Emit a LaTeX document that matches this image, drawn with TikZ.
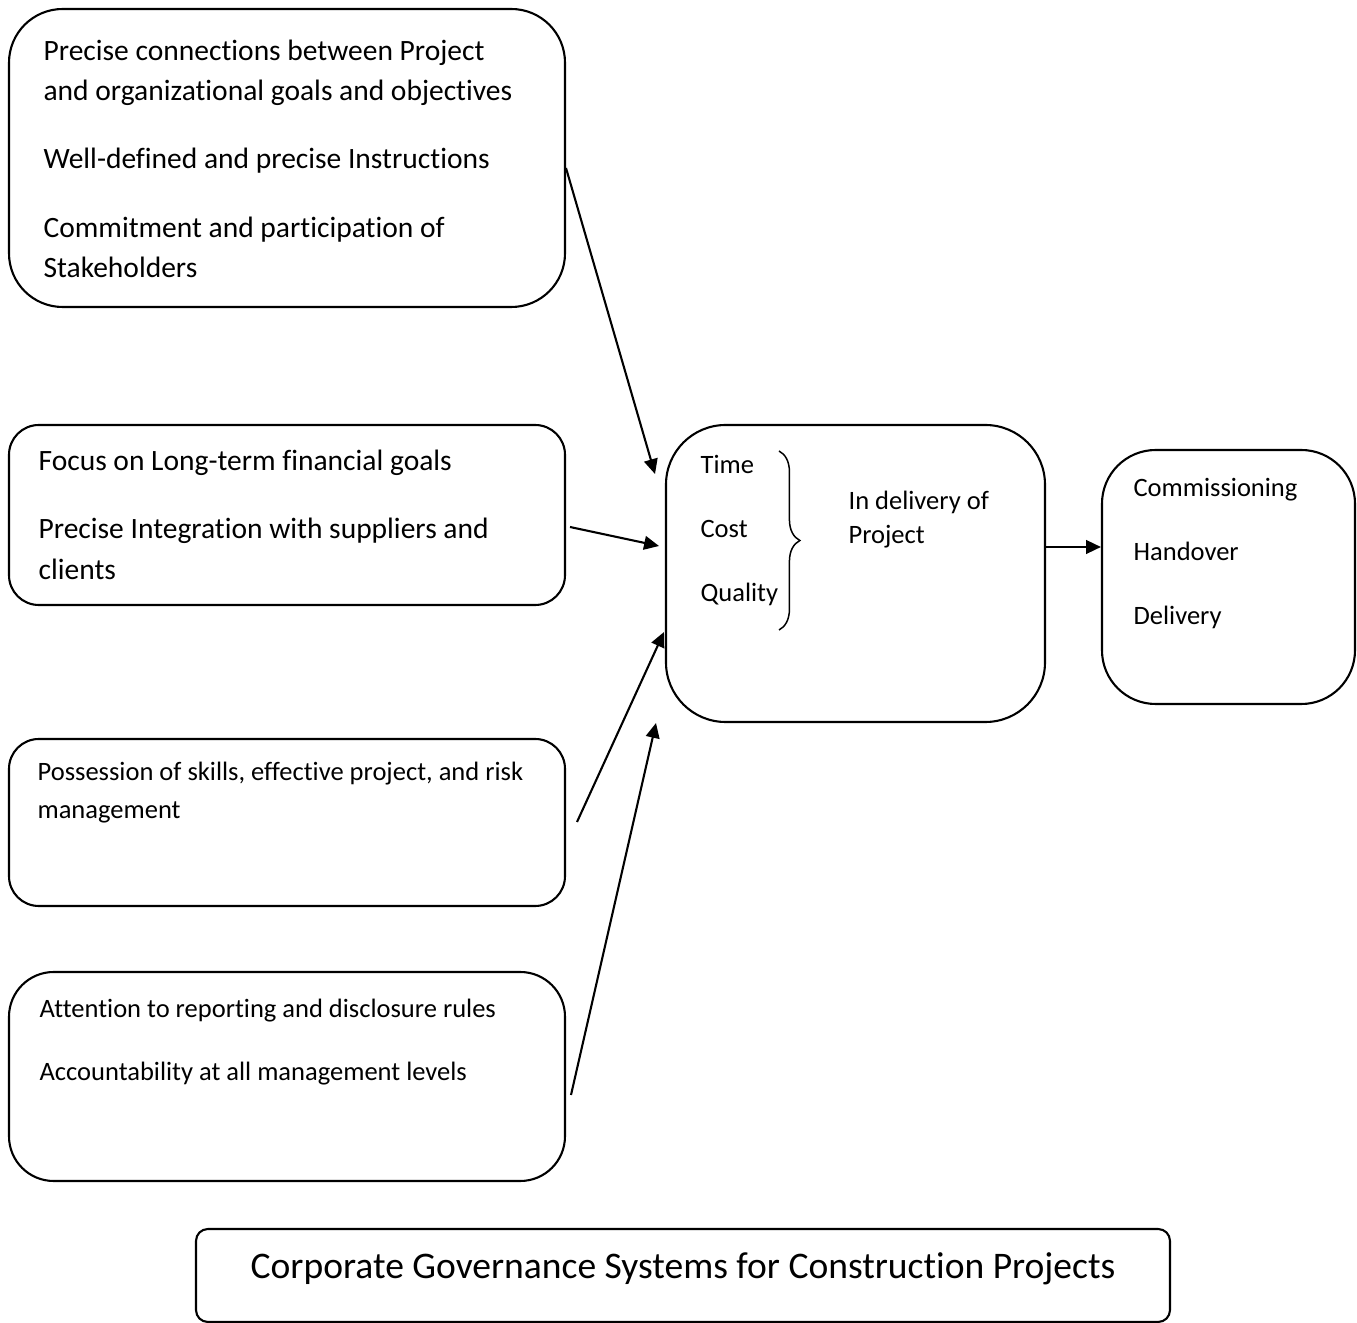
\documentclass[tikz,border=0pt]{standalone}
\usepackage{fontspec}
\setmainfont{Carlito}[Ligatures={NoCommon}]
\usetikzlibrary{arrows.meta,fit,decorations.pathreplacing}
\tikzset{
  box/.style={draw,line width=0.7pt,inner sep=0pt},
  txt/.style={anchor=base west,inner sep=0pt,font=\fontsize{9.9}{12}\selectfont},
  small/.style={anchor=base west,inner sep=0pt,font=\fontsize{8.9}{11}\selectfont},
  arr/.style={-{Triangle[length=5pt,width=4.6pt]},line width=0.7pt}
}
\begin{document}
\begin{tikzpicture}[x=0.3355pt,y=-0.3355pt]
\useasboundingbox (0,0) rectangle (1357,1323);
\node[box,rounded corners=18pt,fit={(9,9) (565,307)}](B1){};
\node[box,rounded corners=10pt,fit={(9,425) (565,605)}](B2){};
\node[box,rounded corners=10pt,fit={(9,739) (565,906)}](B3){};
\node[box,rounded corners=15pt,fit={(9,972) (565,1181)}](B4){};
\node[box,rounded corners=20pt,fit={(666,425) (1045,722)}](C){};
\node[box,rounded corners=18pt,fit={(1102,450) (1355,704)}](R){};
\node[box,rounded corners=4pt,fit={(196,1229) (1170,1322)}](T){};
\node[txt](B1A) at (43,61){Precise connections between Project};
\node[txt](B1B) at (43,101){and organizational goals and objectives};
\node[txt](B1C) at (43,169){Well-defined and precise Instructions};
\node[txt](B1D) at (43,238){Commitment and participation of};
\node[txt](B1E) at (43,278){Stakeholders};
\node[txt](B2A) at (38,471){Focus on Long-term financial goals};
\node[txt](B2B) at (38,539){Precise Integration with suppliers and};
\node[txt](B2C) at (38,580){clients};
\node[small](B3A) at (37,781){Possession of skills, effective project, and risk};
\node[small](B3B) at (37,819){management};
\node[small](B4A) at (39,1018){Attention to reporting and disclosure rules};
\node[small](B4B) at (39,1081){Accountability at all management levels};
\node[small](TIME) at (700,474){Time};
\node[small](COST) at (700,538){Cost};
\node[small](QUAL) at (700,602){Quality};
\node[small](DEL1) at (848,510){In delivery of};
\node[small](DEL2) at (848,544){Project};
\node[small](R1) at (1133,497){Commissioning};
\node[small](R2) at (1133,561){Handover};
\node[small](R3) at (1133,625){Delivery};
\node[anchor=base,inner sep=0pt,font=\fontsize{12.6}{15}\selectfont](TT) at (683,1279){Corporate Governance Systems for Construction Projects};
\coordinate(BRT) at (779,451);
\coordinate(BRB) at (779,630);
\draw[line width=0.5pt,decorate,decoration={brace,amplitude=7pt}](BRT)--(BRB);
\coordinate(A1S) at (566,168);
\coordinate(A1E) at (655,474);
\coordinate(A2S) at (570,527);
\coordinate(A2E) at (659,546);
\coordinate(A3S) at (577,822);
\coordinate(A3E) at (664,632);
\coordinate(A4S) at (571,1095);
\coordinate(A4E) at (656,723);
\coordinate(A5S) at (1045,547);
\draw[arr](A1S)--(A1E);
\draw[arr](A2S)--(A2E);
\draw[arr](A3S)--(A3E);
\draw[arr](A4S)--(A4E);
\draw[arr](A5S)--(A5S-|R.west);
\end{tikzpicture}
\end{document}
